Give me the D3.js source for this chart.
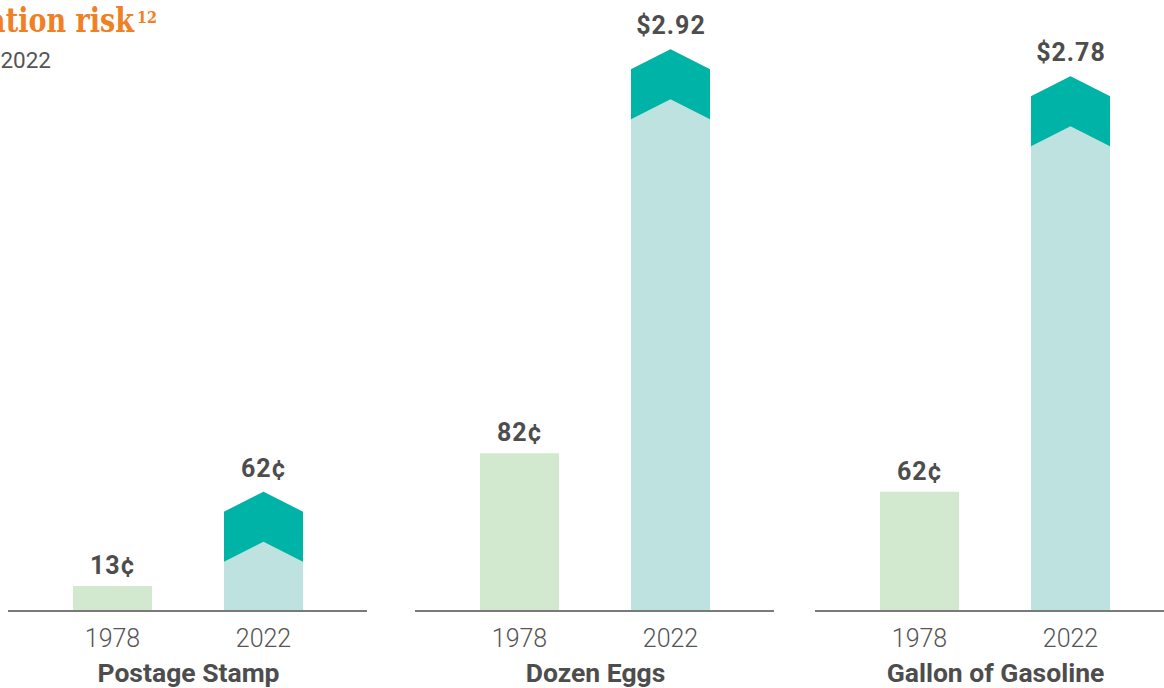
<!DOCTYPE html>
<html>
<head>
<meta charset="utf-8">
<script src="https://cdn.jsdelivr.net/npm/d3@7"></script>
<style>
  html, body { margin: 0; padding: 0; background: #fff; }
  svg { display: block; }
</style>
</head>
<body>
<svg id="chart" width="1164" height="688"></svg>
<script>
// Prices in cents, 1978 vs 2022
const categories = ["Postage Stamp", "Dozen Eggs", "Gallon of Gasoline"];
const years = ["1978", "2022"];
const prices1978 = [13, 82, 62];
const prices2022 = [62, 292, 278];
const labels1978 = ["13¢", "82¢", "62¢"];
const labels2022 = ["62¢", "$2.92", "$2.78"];

const W = 1164, H = 688;
const svg = d3.select("#chart");

const C = {
  old: "#d3e9cf",
  light: "#bee2df",
  dark: "#00b3a7",
  text: "#4d4d4d",
  axis: "#7a7a7a",
  title: "#f08024"
};

// Title, running off the left edge
svg.append("text")
  .attr("transform", "translate(134,32) scale(0.82,1)")
  .attr("text-anchor", "end")
  .attr("font-family", "'DejaVu Serif', serif")
  .attr("font-weight", 700)
  .attr("font-size", 33)
  .attr("fill", C.title)
  .text("Inflation risk");
svg.append("text")
  .attr("transform", "translate(137,23) scale(0.9,1)")
  .attr("font-family", "'DejaVu Serif', serif")
  .attr("font-weight", 700)
  .attr("font-size", 16)
  .attr("fill", C.title)
  .text("12");
svg.append("text")
  .attr("x", 51).attr("y", 68)
  .attr("text-anchor", "end")
  .attr("font-family", "Roboto, sans-serif")
  .attr("font-size", 22.5)
  .attr("fill", "#555")
  .text("1978 vs. 2022");

// Shared layout
const baseY = 611;
const panelX = d3.scaleOrdinal().domain(categories).range([8, 415, 815]);
const panelW = 359;
const x = d3.scaleBand().domain(years).range([65, 295]).paddingInner(0.4768).paddingOuter(0);
const y = d3.scaleLinear().domain([0, 300]).range([baseY, baseY - 300 * 1.924]);

const notch = 20;   // rise of the arrow tip above the bar's sides
const band = 50;    // thickness of the dark arrow band

const valueText = sel => sel
  .attr("text-anchor", "middle")
  .attr("font-family", "Roboto, sans-serif")
  .attr("font-weight", 700)
  .attr("font-size", 25)
  .attr("letter-spacing", 1)
  .attr("fill", C.text);

categories.forEach((cat, i) => {
  const g = svg.append("g").attr("transform", `translate(${panelX(cat)},0)`);

  // 1978 bar
  const x0 = x("1978"), bw = x.bandwidth();
  const top0 = y(prices1978[i]);
  g.append("rect")
    .attr("x", x0).attr("y", top0)
    .attr("width", bw).attr("height", baseY - top0)
    .attr("fill", C.old);
  g.append("text")
    .attr("x", x0 + bw / 2 + 0.5).attr("y", top0 - 12)
    .call(valueText)
    .text(labels1978[i]);

  // 2022 bar with arrow-shaped top
  const x1 = x("2022"), xc = x1 + bw / 2, x2 = x1 + bw;
  const peak = y(prices2022[i]);
  const side = peak + notch;
  g.append("path")
    .attr("d", `M${x1},${baseY}L${x1},${side}L${xc},${peak}L${x2},${side}L${x2},${baseY}Z`)
    .attr("fill", C.light);
  g.append("path")
    .attr("d", `M${x1},${side}L${xc},${peak}L${x2},${side}L${x2},${side + band}L${xc},${peak + band}L${x1},${side + band}Z`)
    .attr("fill", C.dark);
  g.append("text")
    .attr("x", xc + 0.5).attr("y", peak - 15)
    .call(valueText)
    .text(labels2022[i]);

  // Baseline axis with year ticks
  const axis = d3.axisBottom(x).tickSize(0).tickPadding(0);
  const ax = g.append("g").attr("transform", `translate(0,${baseY})`).call(axis);
  ax.select(".domain").remove();
  ax.append("line")
    .attr("x1", 0).attr("x2", panelW)
    .attr("stroke", C.axis).attr("stroke-width", 2);
  ax.selectAll(".tick text")
    .attr("y", 36)
    .attr("dy", null)
    .attr("font-family", "Roboto, sans-serif")
    .attr("font-weight", 300)
    .attr("font-size", 25)
    .attr("fill", "#555");

  // Category name
  g.append("text")
    .attr("x", panelW / 2 + 1).attr("y", 682)
    .attr("text-anchor", "middle")
    .attr("font-family", "Roboto, sans-serif")
    .attr("font-weight", 700)
    .attr("font-size", 26.5)
    .attr("fill", C.text)
    .text(cat);
});
</script>
</body>
</html>
